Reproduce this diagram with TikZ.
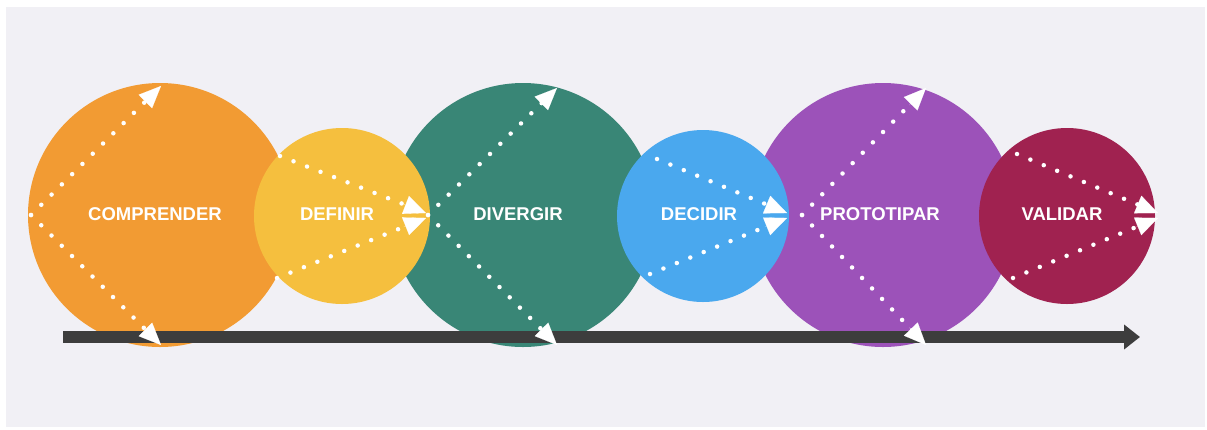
\documentclass[tikz,border=0pt]{standalone}
\usepackage{fontspec}
\setmainfont{Liberation Sans}
\usetikzlibrary{arrows.meta,calc}
\definecolor{bg}{HTML}{F1F0F5}
\definecolor{corange}{HTML}{F29B33}
\definecolor{cyellow}{HTML}{F5BF3E}
\definecolor{cteal}{HTML}{398676}
\definecolor{cblue}{HTML}{4AA8EE}
\definecolor{cpurple}{HTML}{9C52B9}
\definecolor{cred}{HTML}{A02250}
\definecolor{cbar}{HTML}{3D3D3D}
\begin{document}
\begin{tikzpicture}[x=1pt,y=-1pt,
  phase/.style={circle, inner sep=0pt, minimum size=#1},
  lbl/.style={text=white, inner sep=0pt, font=\fontsize{18.5}{20}\selectfont\bfseries},
  dots/.style={draw=white, line width=4.5pt, line cap=round, dash pattern=on 0pt off 14.5pt},
  tipseg/.style={draw=white, line width=0.1pt, -{Triangle[length=22pt,width=19pt,fill=white]}}]
\useasboundingbox (0,0) rectangle (1207,429);
\fill[white] (0,0) rectangle (1207,429);
\fill[bg] (6,7) rectangle (1205,427);

% large circles
\node[phase=264pt, fill=corange] (comp) at (160,215) {};
\node[phase=264pt, fill=cteal] (div) at (523,215) {};
\node[phase=264pt, fill=cpurple] (proto) at (883,215) {};
% small circles
\node[phase=176pt, fill=cyellow] (def) at (342,216) {};
\node[phase=172pt, fill=cblue] (dec) at (703,216) {};
\node[phase=176pt, fill=cred] (val) at (1067,216) {};

% timeline
\coordinate (bs) at (63,337);
\coordinate (be) at (1140,337);
\draw[cbar, line width=12pt, -{Triangle[length=16pt,width=24pt]}] (bs) -- (be);

% labels
\node[lbl] (lcomp) at (155,214) {COMPRENDER};
\node[lbl] (ldef) at (337,214) {DEFINIR};
\node[lbl] (ldiv) at (518,214) {DIVERGIR};
\node[lbl] (ldec) at (699,214) {DECIDIR};
\node[lbl] (lproto) at (880,214) {PROTOTIPAR};
\node[lbl] (lval) at (1062,214) {VALIDAR};

% dotted arrow end points
\coordinate (cs) at (31,215);   \coordinate (cu) at (161,86);   \coordinate (cd) at (161,345);
\coordinate (ds1) at (280,156); \coordinate (ds2) at (277,278); \coordinate (de1) at (426,213); \coordinate (de2) at (426,218);
\coordinate (vs) at (428,215);  \coordinate (vu) at (557,88);   \coordinate (vd) at (557,345);
\coordinate (es1) at (657,159); \coordinate (es2) at (650,274); \coordinate (ee1) at (787,213); \coordinate (ee2) at (787,218);
\coordinate (ps) at (802,215);  \coordinate (pu) at (926,88);   \coordinate (pd) at (926,345);
\coordinate (ls1) at (1017,154);\coordinate (ls2) at (1013,278);\coordinate (le1) at (1158,213);\coordinate (le2) at (1158,218);

\foreach \s/\e in {cs/cu, cs/cd, ds1/de1, ds2/de2, vs/vu, vs/vd, es1/ee1, es2/ee2, ps/pu, ps/pd, ls1/le1, ls2/le2}{
  \path[dots] (\s) -- ($(\e)!18pt!(\s)$);
  \draw[tipseg] ($(\e)!24pt!(\s)$) -- (\e);
}
\end{tikzpicture}
\end{document}
